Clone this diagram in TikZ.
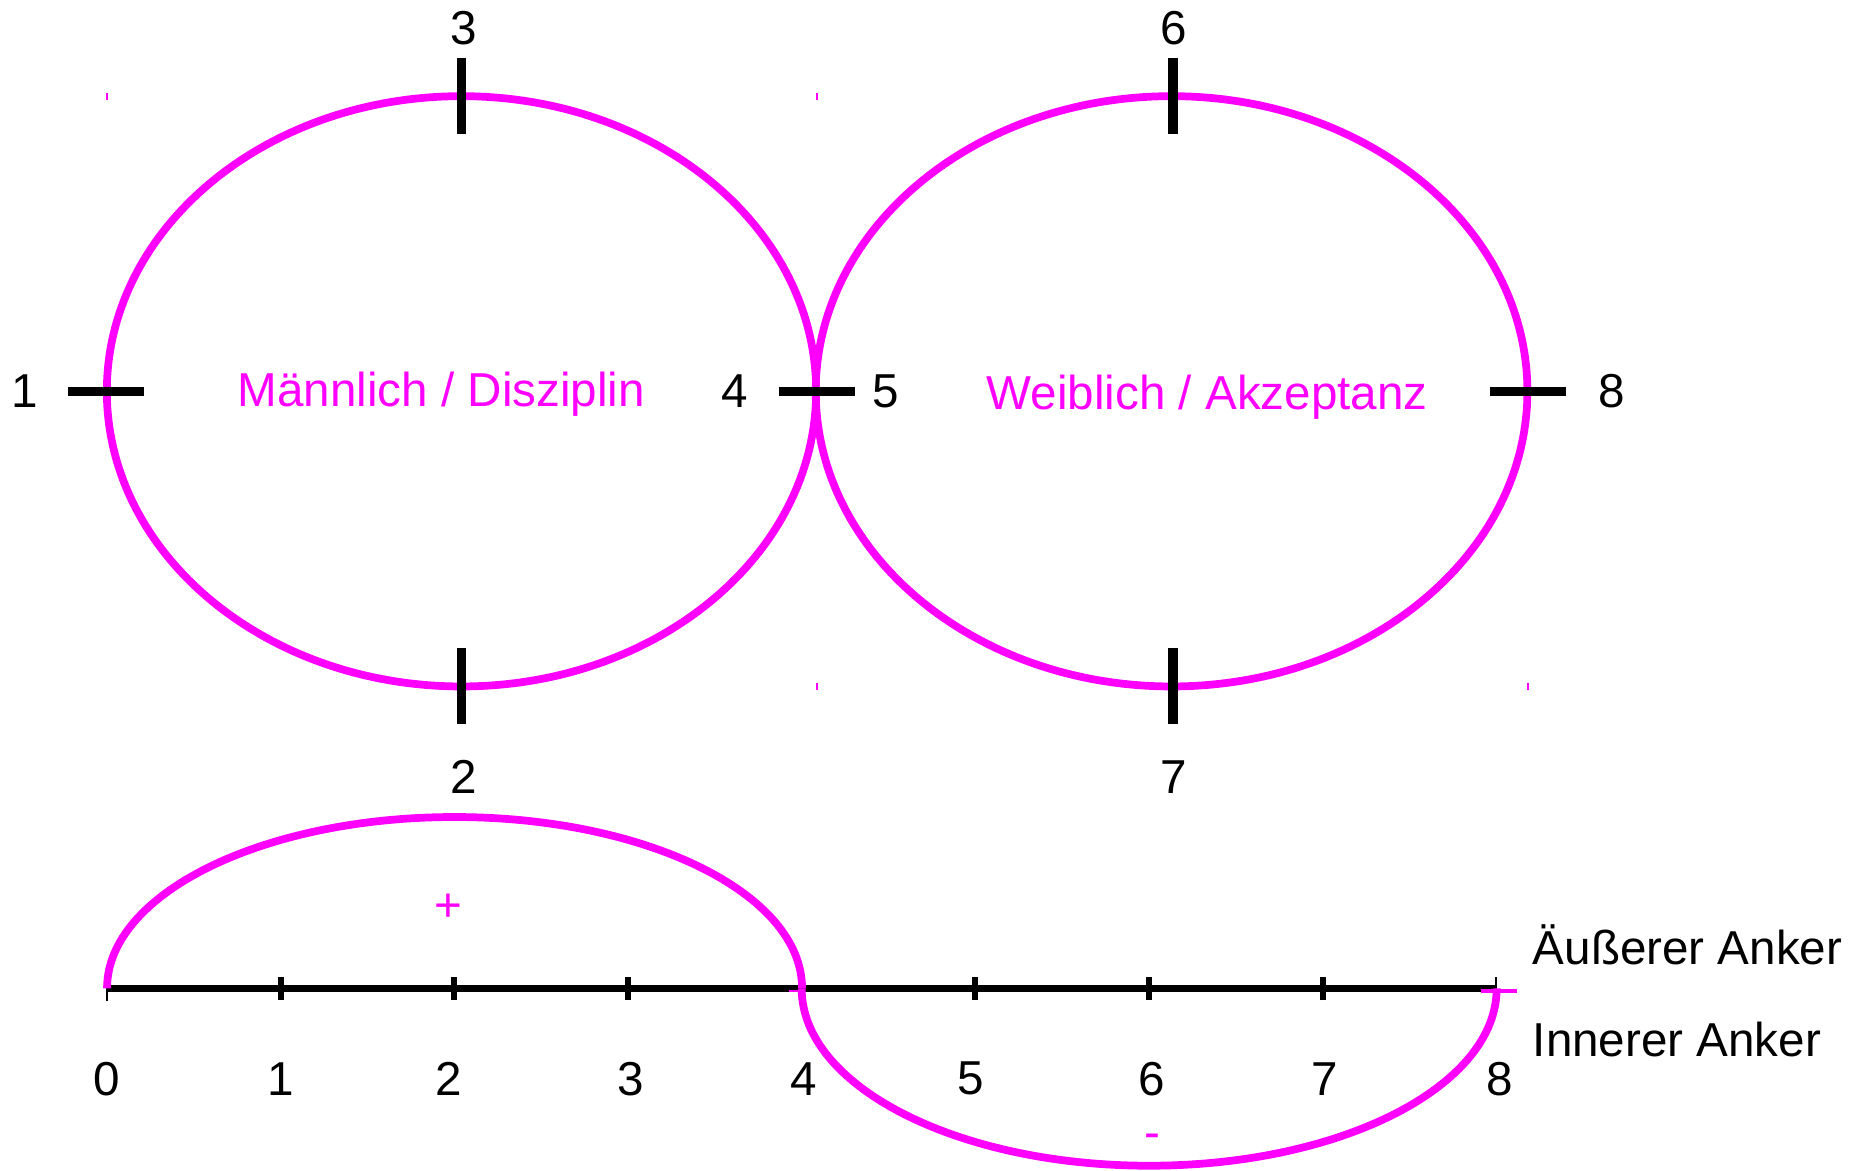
\documentclass[tikz,border=0pt]{standalone}
\usepackage{fontspec}
\setmainfont{Liberation Sans}
\definecolor{mag}{RGB}{255,0,255}
\begin{document}
\begin{tikzpicture}[x=0.01cm,y=0.01cm,
  lbl/.style={font=\fontsize{11.38pt}{13.6pt}\selectfont, inner sep=0pt},
  plbl/.style={lbl, text=mag},
  pinkline/.style={draw=mag, line width=0.065cm},
  tickmark/.style={draw=black, line width=0.08cm},
  axisline/.style={draw=black, line width=0.06cm},
  axistick/.style={draw=black, line width=0.05cm},
  thintick/.style={draw=black, line width=0.018cm},
  cornermark/.style={draw=mag, line width=0.5pt}]
\useasboundingbox (0,0) rectangle (1568,984);

% ellipses
\coordinate (cL) at (388,655);
\coordinate (cR) at (985,655);
\draw[pinkline] (cL) ellipse [x radius=2.98cm, y radius=2.48cm];
\draw[pinkline] (cR) ellipse [x radius=2.99cm, y radius=2.48cm];

% corner marks
\draw[cornermark] (90,900) -- (90,906);
\draw[cornermark] (687,900) -- (687,906);
\draw[cornermark] (687,404) -- (687,410);
\draw[cornermark] (1285,404) -- (1285,410);

% ellipse ticks
\draw[tickmark] (388,935) -- (388,871);
\draw[tickmark] (388,439) -- (388,375);
\draw[tickmark] (986,935) -- (986,871);
\draw[tickmark] (986,439) -- (986,375);
\draw[tickmark] (57,655) -- (121,655);
\draw[tickmark] (655,655) -- (719,655);
\draw[tickmark] (1253,655) -- (1317,655);

% ellipse labels
\node[lbl] (e3) at (390,960) {3};
\node[lbl] (e6) at (987,960) {6};
\node[lbl] (e1) at (21,655) {1};
\node[lbl] (e4) at (618,655) {4};
\node[lbl] (e5) at (745,655) {5};
\node[lbl] (e8) at (1355,655) {8};
\node[lbl] (e2) at (390,331) {2};
\node[lbl] (e7) at (987,331) {7};
\node[plbl, anchor=base] (tm) at (371,642) {Männlich / Disziplin};
\node[plbl, anchor=base] (tw) at (1015,640) {Weiblich / Akzeptanz};

% number line
\draw[axisline] (90,153) -- (1258,153);
\foreach \i in {1,...,7} {
  \draw[axistick] ({90+146*\i},143) -- ({90+146*\i},163);
}
\draw[thintick] (90,153) -- (90,142);
\draw[thintick] (1258,143) -- (1258,163);

% number line labels
\node[lbl] (a0) at (90,77) {0};
\node[lbl] (a1) at (236,77) {1};
\node[lbl] (a2) at (377,77) {2};
\node[lbl] (a3) at (530,77) {3};
\node[lbl] (a4) at (676,77) {4};
\node[lbl] (a5) at (816,77) {5};
\node[lbl] (a6) at (968,77) {6};
\node[lbl] (a7) at (1114,77) {7};
\node[lbl] (a8) at (1261,77) {8};

% curves
\draw[pinkline] (90,153) arc[start angle=180, end angle=0, x radius=2.92cm, y radius=1.44cm];
\draw[pinkline] (674,153) arc[start angle=180, end angle=360, x radius=2.92cm, y radius=1.49cm];
\draw[draw=mag, line width=0.03cm] (1245,151) -- (1275,151);
\draw[draw=mag, line width=0.02cm] (663,151) -- (674,151);

\node[plbl, anchor=base] (plus) at (377,209) {+};
\node[plbl, anchor=base] (minus) at (969,18) {-};

\node[lbl, anchor=base west] (outer) at (1288,173) {Äußerer Anker};
\node[lbl, anchor=base west] (inner) at (1288,96) {Innerer Anker};
\end{tikzpicture}
\end{document}
